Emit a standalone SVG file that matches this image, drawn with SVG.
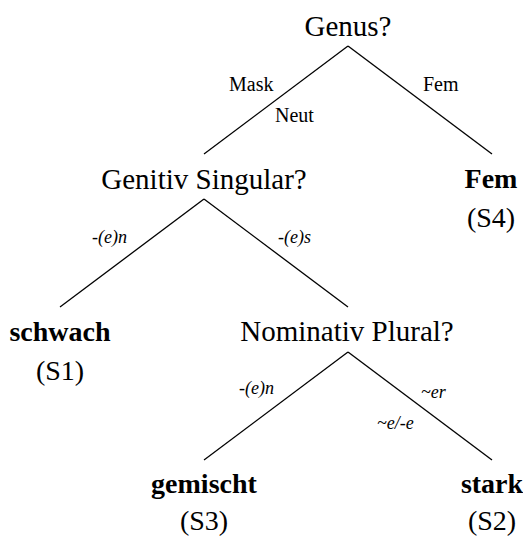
<svg xmlns="http://www.w3.org/2000/svg" width="523" height="536" viewBox="0 0 523 536">
<style>
text{font-family:"Liberation Serif","Times New Roman",serif;fill:#000}
.q{font-size:29px;text-anchor:middle}
.s{font-size:28px;text-anchor:middle}
.b{font-size:28px;font-weight:bold;text-anchor:middle}
.e{font-size:20px}
.i{font-size:18px;font-style:italic}
line{stroke:#000;stroke-width:1.3;fill:none}
</style>
<rect width="523" height="536" fill="#fff"/>
<g id="connectors">
<line x1="348" y1="46" x2="204" y2="154"/>
<line x1="348" y1="46" x2="492" y2="154"/>
<line x1="204" y1="199" x2="60" y2="307"/>
<line x1="204" y1="199" x2="348" y2="307"/>
<line x1="348" y1="352" x2="204" y2="460"/>
<line x1="348" y1="352" x2="492" y2="460"/>
<text class="e" x="229" y="91">Mask</text>
<text class="e" x="275" y="122">Neut</text>
<text class="e" x="423" y="91">Fem</text>
<text class="i" x="92" y="243">-(e)n</text>
<text class="i" x="278" y="243">-(e)s</text>
<text class="i" x="239" y="394">-(e)n</text>
<text class="i" x="421" y="398">~er</text>
<text class="i" x="377" y="429">~e/-e</text>
</g>
<g id="genus"><text class="q" x="348" y="36">Genus?</text></g>
<g id="genitiv"><text class="q" x="204" y="189">Genitiv Singular?</text></g>
<g id="fem"><text class="b" x="491" y="188">Fem</text><text class="s" x="491" y="227">(S4)</text></g>
<g id="schwach"><text class="b" x="60" y="341">schwach</text><text class="s" x="60" y="380">(S1)</text></g>
<g id="nominativ"><text class="q" x="347" y="341">Nominativ Plural?</text></g>
<g id="gemischt"><text class="b" x="204" y="493">gemischt</text><text class="s" x="204" y="530">(S3)</text></g>
<g id="stark"><text class="b" x="492" y="493">stark</text><text class="s" x="492" y="530">(S2)</text></g>
</svg>
